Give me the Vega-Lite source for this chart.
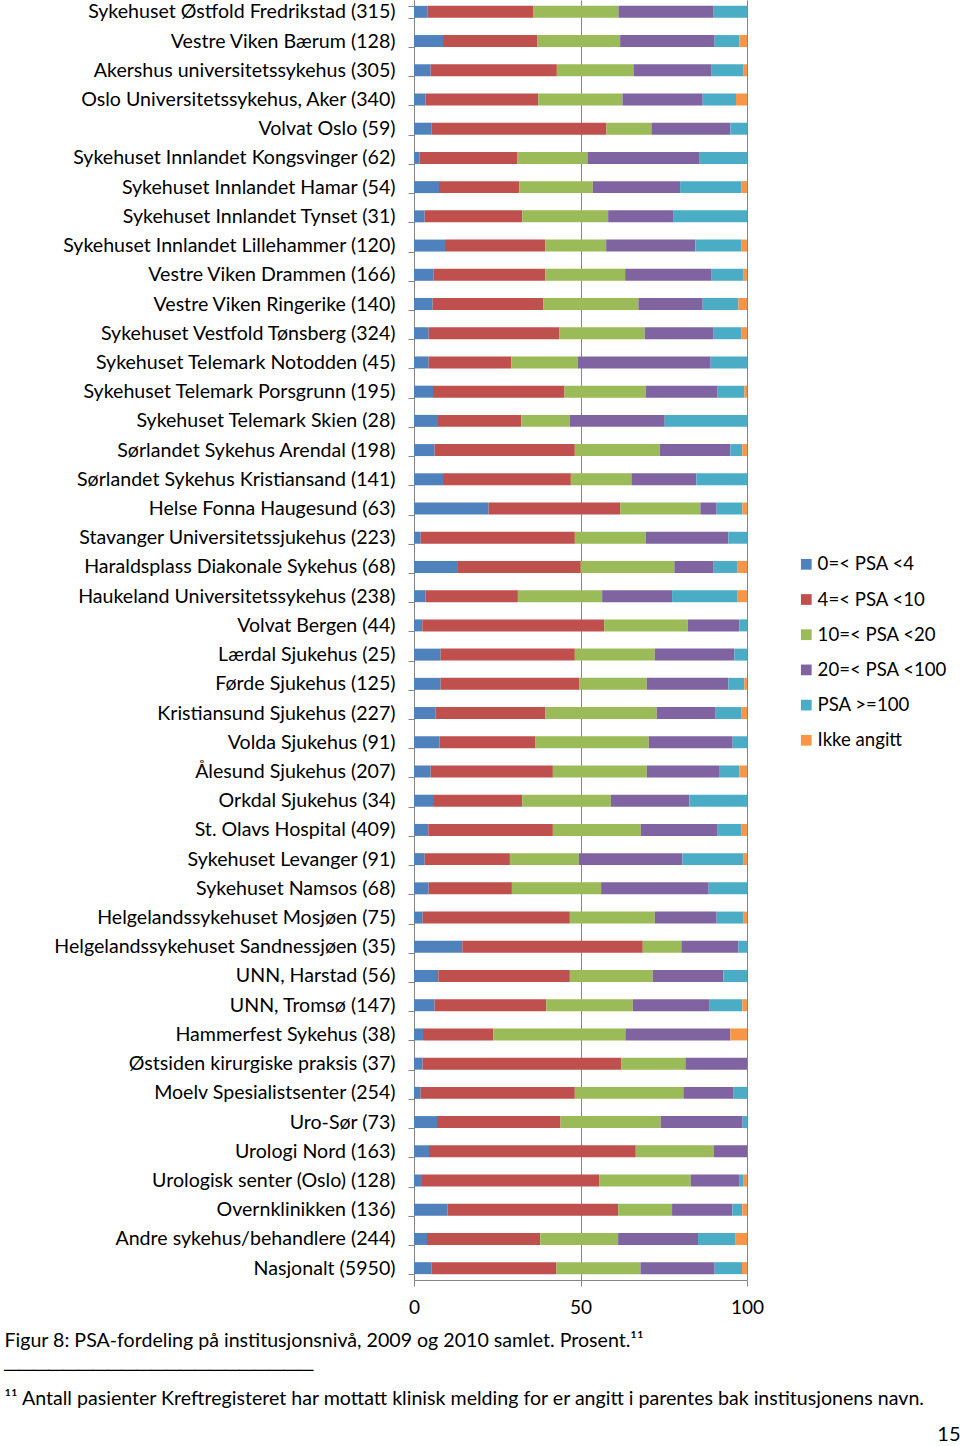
{
  "$schema": "https://vega.github.io/schema/vega-lite/v6.json",
  "width": 333,
  "height": 1280,
  "autosize": {"type": "none"},
  "padding": {"left": 414, "top": 0, "right": 213, "bottom": 166},
  "background": "white",
  "config": {
    "font": "Lato",
    "view": {"stroke": null},
    "axis": {"labelFont": "Lato", "titleFont": "Lato", "labelColor": "#000000", "titleColor": "#000000", "domainColor": "#868686", "tickColor": "#868686", "gridColor": "#868686"},
    "legend": {"labelFont": "Lato"}
  },
  "data": {
    "values": [
      {"inst": "Sykehuset Østfold Fredrikstad (315)", "p1_0_4": 4.0, "p2_4_10": 31.9, "p3_10_20": 25.5, "p4_20_100": 28.6, "p5_100": 10.0, "p6_ikke_angitt": 0},
      {"inst": "Vestre Viken Bærum (128)", "p1_0_4": 8.7, "p2_4_10": 28.4, "p3_10_20": 24.8, "p4_20_100": 28.4, "p5_100": 7.4, "p6_ikke_angitt": 2.3},
      {"inst": "Akershus universitetssykehus (305)", "p1_0_4": 5.0, "p2_4_10": 37.9, "p3_10_20": 23.0, "p4_20_100": 23.5, "p5_100": 9.6, "p6_ikke_angitt": 1.0},
      {"inst": "Oslo Universitetssykehus, Aker (340)", "p1_0_4": 3.5, "p2_4_10": 33.8, "p3_10_20": 25.3, "p4_20_100": 24.1, "p5_100": 10.0, "p6_ikke_angitt": 3.3},
      {"inst": "Volvat Oslo (59)", "p1_0_4": 5.2, "p2_4_10": 52.6, "p3_10_20": 13.5, "p4_20_100": 23.7, "p5_100": 5.0, "p6_ikke_angitt": 0},
      {"inst": "Sykehuset Innlandet Kongsvinger (62)", "p1_0_4": 1.7, "p2_4_10": 29.4, "p3_10_20": 21.0, "p4_20_100": 33.7, "p5_100": 14.2, "p6_ikke_angitt": 0},
      {"inst": "Sykehuset Innlandet Hamar (54)", "p1_0_4": 7.5, "p2_4_10": 24.1, "p3_10_20": 22.1, "p4_20_100": 26.2, "p5_100": 18.5, "p6_ikke_angitt": 1.6},
      {"inst": "Sykehuset Innlandet Tynset (31)", "p1_0_4": 3.2, "p2_4_10": 29.3, "p3_10_20": 25.8, "p4_20_100": 19.5, "p5_100": 22.2, "p6_ikke_angitt": 0},
      {"inst": "Sykehuset Innlandet Lillehammer (120)", "p1_0_4": 9.3, "p2_4_10": 30.1, "p3_10_20": 18.3, "p4_20_100": 26.8, "p5_100": 13.9, "p6_ikke_angitt": 1.6},
      {"inst": "Vestre Viken Drammen (166)", "p1_0_4": 5.8, "p2_4_10": 33.6, "p3_10_20": 24.0, "p4_20_100": 26.0, "p5_100": 9.6, "p6_ikke_angitt": 1.0},
      {"inst": "Vestre Viken Ringerike (140)", "p1_0_4": 5.6, "p2_4_10": 33.3, "p3_10_20": 28.5, "p4_20_100": 19.3, "p5_100": 10.7, "p6_ikke_angitt": 2.6},
      {"inst": "Sykehuset Vestfold Tønsberg (324)", "p1_0_4": 4.4, "p2_4_10": 39.3, "p3_10_20": 25.6, "p4_20_100": 20.7, "p5_100": 8.4, "p6_ikke_angitt": 1.6},
      {"inst": "Sykehuset Telemark Notodden (45)", "p1_0_4": 4.4, "p2_4_10": 24.8, "p3_10_20": 20.0, "p4_20_100": 39.9, "p5_100": 10.9, "p6_ikke_angitt": 0},
      {"inst": "Sykehuset Telemark Porsgrunn (195)", "p1_0_4": 5.7, "p2_4_10": 39.5, "p3_10_20": 24.4, "p4_20_100": 21.6, "p5_100": 8.0, "p6_ikke_angitt": 0.8},
      {"inst": "Sykehuset Telemark Skien (28)", "p1_0_4": 7.2, "p2_4_10": 25.0, "p3_10_20": 14.6, "p4_20_100": 28.5, "p5_100": 24.7, "p6_ikke_angitt": 0},
      {"inst": "Sørlandet Sykehus Arendal (198)", "p1_0_4": 6.2, "p2_4_10": 42.1, "p3_10_20": 25.5, "p4_20_100": 21.2, "p5_100": 3.6, "p6_ikke_angitt": 1.4},
      {"inst": "Sørlandet Sykehus Kristiansand (141)", "p1_0_4": 8.7, "p2_4_10": 38.4, "p3_10_20": 18.2, "p4_20_100": 19.5, "p5_100": 15.2, "p6_ikke_angitt": 0},
      {"inst": "Helse Fonna Haugesund (63)", "p1_0_4": 22.4, "p2_4_10": 39.5, "p3_10_20": 24.1, "p4_20_100": 4.9, "p5_100": 7.7, "p6_ikke_angitt": 1.4},
      {"inst": "Stavanger Universitetssjukehus (223)", "p1_0_4": 2.0, "p2_4_10": 46.3, "p3_10_20": 21.3, "p4_20_100": 24.8, "p5_100": 5.6, "p6_ikke_angitt": 0},
      {"inst": "Haraldsplass Diakonale Sykehus (68)", "p1_0_4": 13.2, "p2_4_10": 36.9, "p3_10_20": 28.1, "p4_20_100": 11.8, "p5_100": 7.2, "p6_ikke_angitt": 2.8},
      {"inst": "Haukeland Universitetssykehus (238)", "p1_0_4": 3.5, "p2_4_10": 27.7, "p3_10_20": 25.3, "p4_20_100": 21.0, "p5_100": 19.7, "p6_ikke_angitt": 2.8},
      {"inst": "Volvat Bergen (44)", "p1_0_4": 2.5, "p2_4_10": 54.6, "p3_10_20": 25.1, "p4_20_100": 15.5, "p5_100": 2.3, "p6_ikke_angitt": 0},
      {"inst": "Lærdal Sjukehus (25)", "p1_0_4": 8.0, "p2_4_10": 40.3, "p3_10_20": 24.0, "p4_20_100": 23.9, "p5_100": 3.8, "p6_ikke_angitt": 0},
      {"inst": "Førde Sjukehus (125)", "p1_0_4": 8.0, "p2_4_10": 41.7, "p3_10_20": 20.2, "p4_20_100": 24.5, "p5_100": 4.8, "p6_ikke_angitt": 0.8},
      {"inst": "Kristiansund Sjukehus (227)", "p1_0_4": 6.5, "p2_4_10": 33.0, "p3_10_20": 33.4, "p4_20_100": 17.7, "p5_100": 7.8, "p6_ikke_angitt": 1.6},
      {"inst": "Volda Sjukehus (91)", "p1_0_4": 7.7, "p2_4_10": 28.8, "p3_10_20": 34.0, "p4_20_100": 25.2, "p5_100": 4.3, "p6_ikke_angitt": 0},
      {"inst": "Ålesund Sjukehus (207)", "p1_0_4": 5.0, "p2_4_10": 36.7, "p3_10_20": 28.2, "p4_20_100": 21.7, "p5_100": 6.1, "p6_ikke_angitt": 2.3},
      {"inst": "Orkdal Sjukehus (34)", "p1_0_4": 6.0, "p2_4_10": 26.5, "p3_10_20": 26.6, "p4_20_100": 23.6, "p5_100": 17.3, "p6_ikke_angitt": 0},
      {"inst": "St. Olavs Hospital (409)", "p1_0_4": 4.3, "p2_4_10": 37.4, "p3_10_20": 26.4, "p4_20_100": 23.1, "p5_100": 7.2, "p6_ikke_angitt": 1.6},
      {"inst": "Sykehuset Levanger (91)", "p1_0_4": 3.2, "p2_4_10": 25.6, "p3_10_20": 20.7, "p4_20_100": 31.1, "p5_100": 18.4, "p6_ikke_angitt": 1.0},
      {"inst": "Sykehuset Namsos (68)", "p1_0_4": 4.4, "p2_4_10": 25.0, "p3_10_20": 26.8, "p4_20_100": 32.3, "p5_100": 11.5, "p6_ikke_angitt": 0},
      {"inst": "Helgelandssykehuset Mosjøen (75)", "p1_0_4": 2.6, "p2_4_10": 44.2, "p3_10_20": 25.5, "p4_20_100": 18.6, "p5_100": 8.1, "p6_ikke_angitt": 1.0},
      {"inst": "Helgelandssykehuset Sandnessjøen (35)", "p1_0_4": 14.5, "p2_4_10": 54.2, "p3_10_20": 11.6, "p4_20_100": 17.1, "p5_100": 2.6, "p6_ikke_angitt": 0},
      {"inst": "UNN, Harstad (56)", "p1_0_4": 7.3, "p2_4_10": 39.5, "p3_10_20": 24.9, "p4_20_100": 21.2, "p5_100": 7.1, "p6_ikke_angitt": 0},
      {"inst": "UNN, Tromsø (147)", "p1_0_4": 6.2, "p2_4_10": 33.5, "p3_10_20": 26.0, "p4_20_100": 23.1, "p5_100": 9.8, "p6_ikke_angitt": 1.4},
      {"inst": "Hammerfest Sykehus (38)", "p1_0_4": 2.7, "p2_4_10": 21.1, "p3_10_20": 39.7, "p4_20_100": 31.5, "p5_100": 0, "p6_ikke_angitt": 5.0},
      {"inst": "Østsiden kirurgiske praksis (37)", "p1_0_4": 2.6, "p2_4_10": 59.6, "p3_10_20": 19.3, "p4_20_100": 18.5, "p5_100": 0, "p6_ikke_angitt": 0},
      {"inst": "Moelv Spesialistsenter (254)", "p1_0_4": 2.0, "p2_4_10": 46.3, "p3_10_20": 32.6, "p4_20_100": 15.1, "p5_100": 4.0, "p6_ikke_angitt": 0},
      {"inst": "Uro-Sør (73)", "p1_0_4": 6.9, "p2_4_10": 37.1, "p3_10_20": 30.1, "p4_20_100": 24.6, "p5_100": 1.3, "p6_ikke_angitt": 0},
      {"inst": "Urologi Nord (163)", "p1_0_4": 4.5, "p2_4_10": 62.1, "p3_10_20": 23.4, "p4_20_100": 10.0, "p5_100": 0, "p6_ikke_angitt": 0},
      {"inst": "Urologisk senter (Oslo) (128)", "p1_0_4": 2.4, "p2_4_10": 53.2, "p3_10_20": 27.5, "p4_20_100": 14.7, "p5_100": 1.2, "p6_ikke_angitt": 1.0},
      {"inst": "Overnklinikken (136)", "p1_0_4": 10.1, "p2_4_10": 51.2, "p3_10_20": 16.2, "p4_20_100": 18.1, "p5_100": 3.0, "p6_ikke_angitt": 1.4},
      {"inst": "Andre sykehus/behandlere (244)", "p1_0_4": 3.9, "p2_4_10": 34.0, "p3_10_20": 23.4, "p4_20_100": 24.0, "p5_100": 11.3, "p6_ikke_angitt": 3.4},
      {"inst": "Nasjonalt (5950)", "p1_0_4": 5.2, "p2_4_10": 37.6, "p3_10_20": 25.2, "p4_20_100": 22.3, "p5_100": 8.2, "p6_ikke_angitt": 1.5}
    ]
  },
  "transform": [
    {"fold": ["p1_0_4", "p2_4_10", "p3_10_20", "p4_20_100", "p5_100", "p6_ikke_angitt"], "as": ["cat", "pct"]}
  ],
  "mark": {"type": "bar"},
  "encoding": {
    "y": {
      "field": "inst",
      "type": "nominal",
      "sort": null,
      "scale": {"paddingInner": 0.59, "paddingOuter": 0.2},
      "axis": {
        "title": ["Figur 8: PSA-fordeling på institusjonsnivå, 2009 og 2010 samlet. Prosent.¹¹", "─────────────────────", "¹¹ Antall pasienter Kreftregisteret har mottatt klinisk melding for er angitt i parentes bak institusjonens navn."],
        "titleAngle": 0,
        "titleX": -410,
        "titleY": 1340,
        "titleAlign": "left",
        "titleBaseline": "middle",
        "titleFontSize": 19.6,
        "titleFontWeight": "normal",
        "titleLineHeight": 29,
        "labelFontSize": 19.6,
        "labelPadding": 13,
        "tickSize": 6,
        "tickBand": "extent",
        "labelLimit": 400,
        "domainColor": "#868686"
      }
    },
    "x": {
      "field": "pct",
      "type": "quantitative",
      "stack": "zero",
      "scale": {"domain": [0, 100], "nice": false, "clamp": true},
      "axis": {
        "title": "15",
        "titleX": 546,
        "titleY": 154,
        "titleAlign": "right",
        "titleBaseline": "middle",
        "titleFontSize": 20,
        "titleFontWeight": "normal",
        "values": [0, 50, 100],
        "grid": true,
        "tickSize": 6,
        "labelFontSize": 19,
        "labelPadding": 12,
        "labelFlush": false
      }
    },
    "color": {
      "field": "cat",
      "type": "nominal",
      "scale": {
        "domain": ["p1_0_4", "p2_4_10", "p3_10_20", "p4_20_100", "p5_100", "p6_ikke_angitt"],
        "range": ["#4F81BD", "#C0504D", "#9BBB59", "#8064A2", "#4BACC6", "#F79646"]
      },
      "legend": {
        "title": null,
        "orient": "none",
        "legendX": 383,
        "legendY": 555,
        "symbolType": "square",
        "symbolSize": 115,
        "symbolStrokeWidth": 0,
        "labelFontSize": 18.6,
        "labelColor": "#000000",
        "labelOffset": 2,
        "rowPadding": 16.2,
        "labelExpr": "{'p1_0_4': '0=< PSA <4', 'p2_4_10': '4=< PSA <10', 'p3_10_20': '10=< PSA <20', 'p4_20_100': '20=< PSA <100', 'p5_100': 'PSA >=100', 'p6_ikke_angitt': 'Ikke angitt'}[datum.value]"
      }
    },
    "order": {"field": "cat", "sort": "ascending"}
  }
}
